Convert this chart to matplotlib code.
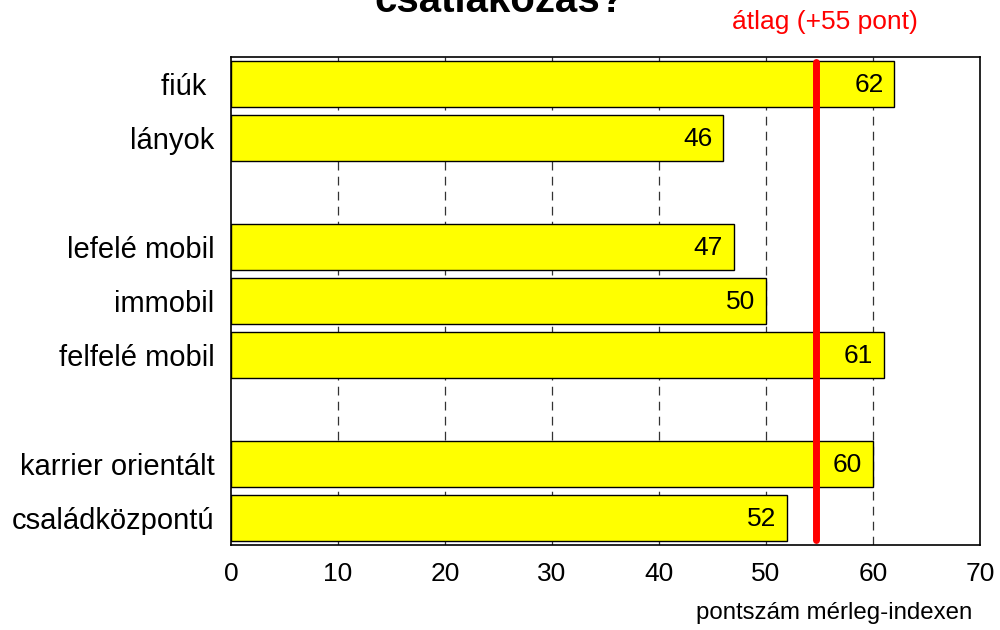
import matplotlib
matplotlib.use("Agg")
import matplotlib.pyplot as plt

plt.rcParams['font.family'] = ['Liberation Sans', 'DejaVu Sans']

categories = ["fiúk ", "lányok", "", "lefelé mobil", "immobil", "felfelé mobil", "", "karrier orientált", "családközpontú"]
values = [62, 46, None, 47, 50, 61, None, 60, 52]
average = 54.7
avg_label = "átlag (+55 pont)"
title = "csatlakozás?"
xlabel = "pontszám mérleg-indexen"
xticks = [0, 10, 20, 30, 40, 50, 60, 70]

fig = plt.figure(figsize=(10, 6.3), dpi=100)
ax = fig.add_axes([0.231, 1 - 545/630, (980-231)/1000, (545-57)/630])

pos = list(range(len(categories)))
for p, v in zip(pos, values):
    if v is None:
        continue
    ax.barh(p, v, height=0.85, color="#ffff00", edgecolor="black", linewidth=1, zorder=2)
    ax.text(v - 1.0, p + 0.02, f"{v}", ha="right", va="center", fontsize=19, zorder=4)

ax.set_xlim(0, 70)
ax.set_ylim(len(categories) - 0.5, -0.5)
ax.set_yticks(pos)
ax.set_yticklabels(categories, fontsize=21)
ax.set_xticks(xticks)
ax.set_xticklabels([str(t) for t in xticks], fontsize=19)
ax.tick_params(axis="y", length=0, pad=12)
ax.tick_params(axis="x", length=0, pad=12)
for t in xticks[1:-1]:
    ax.axvline(t, color="#333333", linestyle=(0, (7, 5)), linewidth=0.9, zorder=1)

ax.plot([average, average], [-0.4, 8.4], color="#ff0000", linewidth=5, solid_capstyle="round", zorder=5)

for s in ax.spines.values():
    s.set_linewidth(1.2)

fig.text(0.825, 1 - 22/630, avg_label, color="#ff0000", fontsize=19, ha="center", va="center")
fig.text(0.5, 1 - 12/630, title, fontsize=29, fontweight="bold", ha="center", va="baseline")
fig.text(0.972, 1 - 613/630, xlabel, fontsize=17.3, ha="right", va="center")

fig.savefig("out.png", dpi=100)
